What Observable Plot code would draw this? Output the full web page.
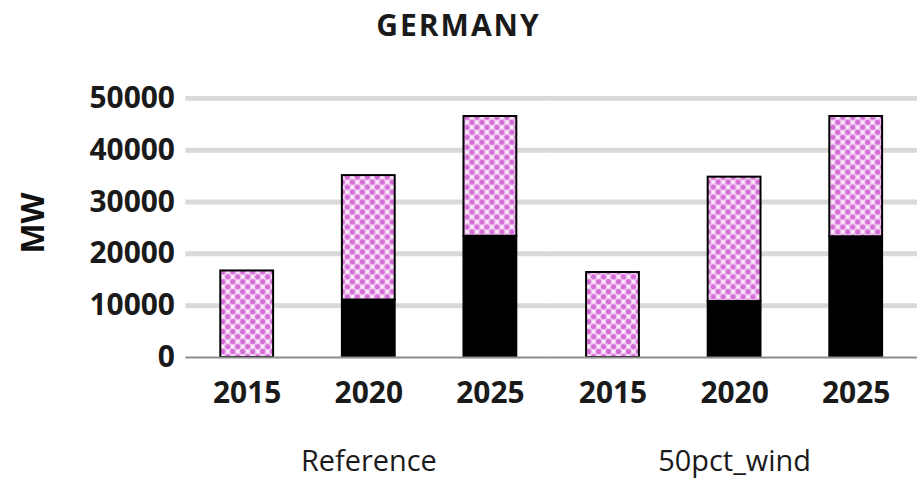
<!DOCTYPE html>
<html>
<head>
<meta charset="utf-8">
<script src="https://cdn.jsdelivr.net/npm/d3@7"></script>
<script src="https://cdn.jsdelivr.net/npm/@observablehq/plot@0.6"></script>
<style>
  html, body { margin: 0; padding: 0; background: #fff; overflow: hidden; }
  #wrap { position: relative; width: 917px; height: 480px; overflow: hidden; font-family: "Open Sans", sans-serif; }
  #title { height: 60px; line-height: 50px; text-align: center; font-size: 30px; font-weight: 700; color: #1a1a1a; letter-spacing: 2px; }
  #ylabel { position: absolute; left: 31px; top: 223px; transform: translate(-50%, -50%) rotate(-90deg); font-size: 32px; font-weight: 700; color: #111; white-space: nowrap; }
  #chart svg { overflow: visible; }
</style>
</head>
<body>
<svg width="0" height="0" style="position:absolute">
  <defs>
    <pattern id="pinkdots" patternUnits="userSpaceOnUse" width="10" height="10">
      <rect width="10" height="10" fill="#f1c8f1"></rect>
      <circle cx="2.5" cy="2.5" r="2.6" fill="#d46dd6"></circle>
      <circle cx="7.5" cy="7.5" r="2.6" fill="#d46dd6"></circle>
      <circle cx="7.5" cy="2.5" r="1.4" fill="#fdf4fd"></circle>
      <circle cx="2.5" cy="7.5" r="1.4" fill="#fdf4fd"></circle>
    </pattern>
  </defs>
</svg>
<div id="wrap">
  <div id="title">GERMANY</div>
  <div id="ylabel">MW</div>
  <div id="chart"></div>
</div>
<script>
// ---- data ----
const scenarios = ["Reference", "50pct_wind"];
const years = ["2015", "2020", "2025"];
const seriesNames = ["Series1", "Series2"]; // Series1 = black (bottom), Series2 = pink (top)
const referenceSeries1 = [0, 11100, 23400];
const referenceSeries2 = [16700, 24000, 23100];
const windSeries1 = [0, 10800, 23300];
const windSeries2 = [16400, 24000, 23200];
const yTicks = [0, 10000, 20000, 30000, 40000, 50000];

const valuesByScenario = {
  "Reference": [referenceSeries1, referenceSeries2],
  "50pct_wind": [windSeries1, windSeries2]
};
const rows = [];
for (const s of scenarios) {
  years.forEach((yr, i) => {
    seriesNames.forEach((name, k) => {
      rows.push({scenario: s, year: yr, series: name, value: valuesByScenario[s][k][i]});
    });
  });
}

const chart = Plot.plot({
  width: 920,
  height: 420,
  marginLeft: 185,
  marginRight: 0,
  marginTop: 38,
  marginBottom: 122,
  style: {fontFamily: "Open Sans", background: "transparent", color: "#1a1a1a"},
  fx: {domain: scenarios, padding: 0, label: null},
  x: {domain: years, paddingInner: 0.567, paddingOuter: 0.2835, label: null},
  y: {domain: [0, 50000], label: null},
  color: {domain: seriesNames, range: ["#000000", "url(#pinkdots)"]},
  marks: [
    Plot.ruleY(yTicks.filter(v => v > 0), {stroke: "#d9d9d9", strokeWidth: 5}),
    Plot.barY(rows.filter(d => d.value > 0), {fx: "scenario", x: "year", y: "value", fill: "series", stroke: "#000", strokeWidth: 2}),
    Plot.ruleY([0], {stroke: "#8c8c8c", strokeWidth: 2}),
    Plot.axisY(yTicks, {tickSize: 0, tickPadding: 11, fontSize: 30, fontWeight: "bold", tickFormat: d => String(d), label: null}),
    Plot.axisX({tickSize: 0, tickPadding: 24, fontSize: 30, fontWeight: "bold", label: null}),
    Plot.axisFx({anchor: "bottom", tickSize: 0, tickPadding: 93, fontSize: 29, fontWeight: 500, label: null})
  ]
});
document.getElementById("chart").appendChild(chart);
</script>
</body>
</html>
